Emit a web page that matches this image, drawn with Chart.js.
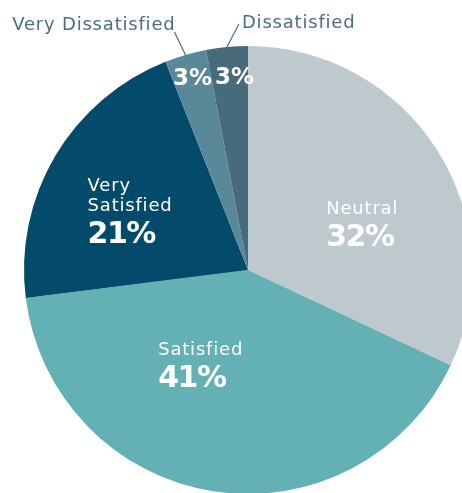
<!DOCTYPE html>
<html>
<head>
<meta charset="utf-8">
<script src="https://cdn.jsdelivr.net/npm/chart.js@4/dist/chart.umd.min.js"></script>
<style>
  html, body { margin: 0; padding: 0; background: #ffffff; overflow: hidden; }
  #wrap { width: 500px; height: 500px; }
</style>
</head>
<body>
<div id="wrap"><canvas id="satisfaction" width="500" height="500"></canvas></div>
<script>
// Survey answers, clockwise from 12 o'clock
const categories = ['Neutral', 'Satisfied', 'Very Satisfied', 'Very Dissatisfied', 'Dissatisfied'];
const shares = [32, 41, 21, 3, 3];
const sliceColors = ['#bec9ce', '#64b1b5', '#044a6b', '#5a8898', '#476b7b'];
// Thin slices get their name outside with a leader line
const outsideName = [false, false, false, true, true];

// Label anchor for each slice: [fraction along the slice's sweep, fraction of the radius]
const labelSpots = [[0.59, 0.55], [0.62, 0.47], [0.45, 0.59], [0.52, 0.90], [0.63, 0.87]];
// Leader end offsets (px) from the slice rim, and text side
const leaderEnds = [null, null, null, [-11, -23, 'right'], [12, -23, 'left']];

const FONT = '"DejaVu Sans", "Liberation Sans", sans-serif';
const CALLOUT_COLOR = '#4b6f7d';
const NAME_SPACING = '0.8px';
const PCT_SPACING = '-1.5px';

const sliceLabels = {
  id: 'sliceLabels',
  afterDatasetsDraw(chart) {
    const ctx = chart.ctx;
    const arcs = chart.getDatasetMeta(0).data;
    ctx.save();
    arcs.forEach((arc, i) => {
      const { x, y, startAngle, endAngle, outerRadius } = arc.getProps(['x', 'y', 'startAngle', 'endAngle', 'outerRadius'], true);
      const [along, radial] = labelSpots[i];
      const a = startAngle + along * (endAngle - startAngle);
      const px = x + Math.cos(a) * outerRadius * radial;
      const py = y + Math.sin(a) * outerRadius * radial;
      const pct = shares[i] + '%';

      if (outsideName[i]) {
        // percentage inside the thin slice
        ctx.fillStyle = '#ffffff';
        ctx.font = 'bold 23px ' + FONT;
        ctx.letterSpacing = '0px';
        ctx.textAlign = 'center';
        ctx.textBaseline = 'alphabetic';
        ctx.fillText(pct, px, py + 8.5);

        // leader line from the rim at mid-sweep
        const mid = (startAngle + endAngle) / 2;
        const rx = x + Math.cos(mid) * outerRadius;
        const ry = y + Math.sin(mid) * outerRadius;
        const [dx, dy, side] = leaderEnds[i];
        const ex = rx + dx, ey = ry + dy;
        ctx.strokeStyle = CALLOUT_COLOR;
        ctx.lineWidth = 1.2;
        ctx.beginPath();
        ctx.moveTo(rx, ry);
        ctx.lineTo(ex, ey);
        ctx.stroke();

        ctx.fillStyle = CALLOUT_COLOR;
        ctx.font = '18px ' + FONT;
        ctx.letterSpacing = NAME_SPACING;
        if (side === 'right') {
          ctx.textAlign = 'right';
          ctx.fillText(categories[i], ex + 1, ey - 2);
        } else {
          ctx.textAlign = 'left';
          ctx.fillText(categories[i], ex + 3, ey + 4.5);
        }
        return;
      }

      // name (wrapped on spaces) above a large percentage, left-aligned block
      const lines = categories[i].split(' ');
      const nameFont = '18px ' + FONT;
      const pctFont = 'bold 30px ' + FONT;
      ctx.font = nameFont;
      ctx.letterSpacing = NAME_SPACING;
      let w = 0;
      lines.forEach(t => { w = Math.max(w, ctx.measureText(t).width); });
      ctx.font = pctFont;
      ctx.letterSpacing = PCT_SPACING;
      w = Math.max(w, ctx.measureText(pct).width);

      const capH = 13, lineGap = 20, pctGap = 32;
      const h = capH + lineGap * (lines.length - 1) + pctGap;
      const left = px - w / 2;
      const base = py - h / 2 + capH;

      ctx.fillStyle = '#ffffff';
      ctx.textAlign = 'left';
      ctx.textBaseline = 'alphabetic';
      ctx.font = nameFont;
      ctx.letterSpacing = NAME_SPACING;
      lines.forEach((t, k) => {
        ctx.fillText(t, left, base + k * lineGap);
      });
      ctx.font = pctFont;
      ctx.letterSpacing = PCT_SPACING;
      ctx.fillText(pct, left, base + lineGap * (lines.length - 1) + pctGap);
    });
    ctx.restore();
  }
};

new Chart(document.getElementById('satisfaction'), {
  type: 'pie',
  data: {
    labels: categories,
    datasets: [{
      data: shares,
      backgroundColor: sliceColors,
      borderWidth: 0
    }]
  },
  options: {
    responsive: false,
    animation: false,
    devicePixelRatio: 1,
    layout: { padding: { left: 24, right: 28, top: 46, bottom: 6 } },
    plugins: {
      legend: { display: false },
      tooltip: { enabled: false }
    }
  },
  plugins: [sliceLabels]
});
</script>
</body>
</html>
